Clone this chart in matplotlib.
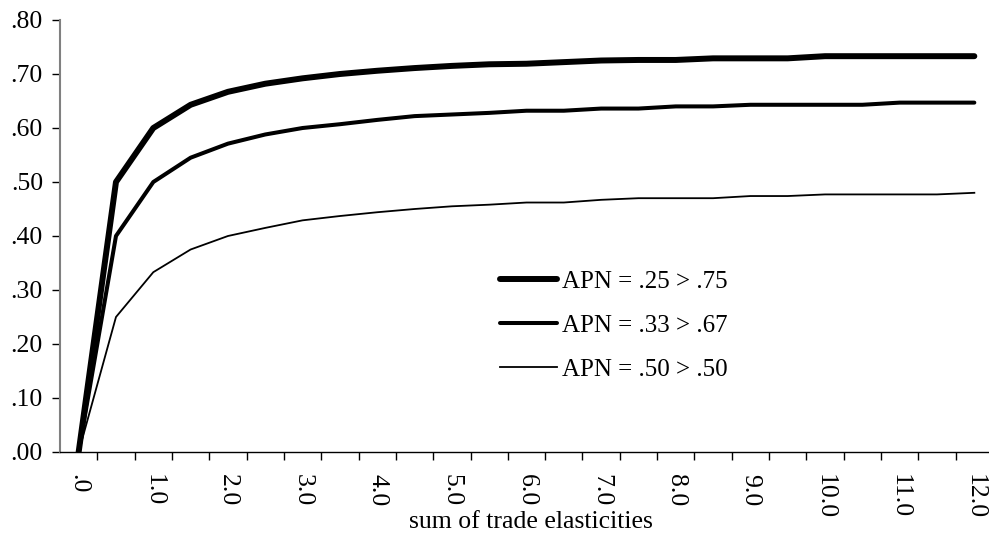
import matplotlib
matplotlib.use("Agg")
import matplotlib.pyplot as plt
import numpy as np

plt.rcParams['font.family'] = ['Liberation Serif', 'DejaVu Serif']

categories = [".0", ".5", "1.0", "1.5", "2.0", "2.5", "3.0", "3.5", "4.0", "4.5", "5.0",
              "5.5", "6.0", "6.5", "7.0", "7.5", "8.0", "8.5", "9.0", "9.5", "10.0",
              "10.5", "11.0", "11.5", "12.0"]

apn_25 = [0.0, 0.500, 0.600, 0.643, 0.667, 0.682, 0.692, 0.700, 0.706, 0.711, 0.715,
          0.718, 0.719, 0.722, 0.725, 0.726, 0.726, 0.729, 0.729, 0.729, 0.733,
          0.733, 0.733, 0.733, 0.733]
apn_33 = [0.0, 0.400, 0.500, 0.545, 0.571, 0.588, 0.600, 0.607, 0.615, 0.622, 0.625,
          0.628, 0.632, 0.632, 0.636, 0.636, 0.640, 0.640, 0.643, 0.643, 0.643,
          0.643, 0.647, 0.647, 0.647]
apn_50 = [0.0, 0.250, 0.333, 0.375, 0.400, 0.415, 0.429, 0.437, 0.444, 0.450, 0.455,
          0.458, 0.462, 0.462, 0.467, 0.470, 0.470, 0.470, 0.474, 0.474, 0.477,
          0.477, 0.477, 0.477, 0.480]

series_labels = ["APN = .25 > .75", "APN = .33 > .67", "APN = .50 > .50"]
yticks = [0.0, 0.1, 0.2, 0.3, 0.4, 0.5, 0.6, 0.7, 0.8]
ytick_labels = [".00", ".10", ".20", ".30", ".40", ".50", ".60", ".70", ".80"]

W, H = 989, 535
fig = plt.figure(figsize=(W/100, H/100), dpi=100)
ax = fig.add_axes([60/W, 1-452/H, 933/W, 432/H])

x = np.arange(len(categories))
ax.plot(x, apn_25, color='black', lw=4.3, label=series_labels[0], solid_capstyle='round')
ax.plot(x, apn_33, color='black', lw=2.9, label=series_labels[1], solid_capstyle='round')
ax.plot(x, apn_50, color='black', lw=1.3, label=series_labels[2])

ax.set_xlim(-0.5, len(categories) - 0.5)
ax.set_ylim(0, 0.8)

ax.set_yticks(yticks)
ax.set_yticklabels(ytick_labels, fontsize=18.5)
ax.tick_params(axis='y', length=5.8, width=1, color='black', pad=6.5, direction='out')

ax.set_xticks(x[::2])
ax.set_xticklabels(categories[::2], rotation=270, fontsize=18.5, va='top', ha='center')
ax.tick_params(axis='x', which='major', length=0, pad=16)
ax.set_xticks(np.arange(len(categories)) + 0.5, minor=True)
ax.tick_params(axis='x', which='minor', length=5.8, width=1, color='black', direction='out')

for s in ['top', 'right']:
    ax.spines[s].set_visible(False)
ax.spines['left'].set_color('#808080')
ax.spines['left'].set_linewidth(1.5)
ax.spines['bottom'].set_color('black')
ax.spines['bottom'].set_linewidth(1.0)

fig.text(531/W, 1-528/H, "sum of trade elasticities", ha='center', va='baseline', fontsize=18.5)

leg = ax.legend(loc='upper left', bbox_to_anchor=((500-60)/933, (452-270)/432),
                frameon=False, fontsize=18, handlelength=2.3, handletextpad=0.2,
                labelspacing=0.86, borderpad=0, borderaxespad=0)

fig.savefig("out.png", dpi=100)
